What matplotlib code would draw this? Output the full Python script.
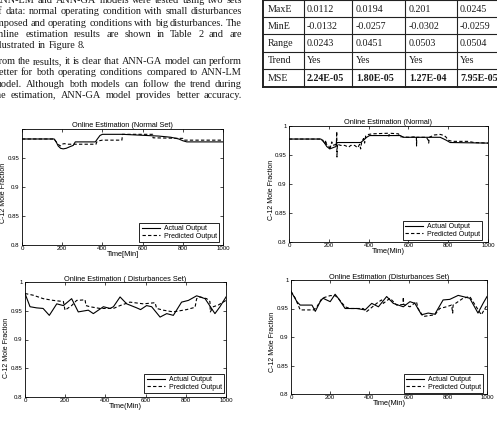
import matplotlib
matplotlib.use('Agg')
import matplotlib.pyplot as plt
from matplotlib.lines import Line2D

# ---------------- data ----------------
para_lines = [
    "ANN-LM and ANN-GA models were tested using two sets",
    "of data: normal operating condition with small disturbances",
    "imposed and operating conditions with big disturbances. The",
    "online estimation results are shown in Table 2 and are",
    "illustrated in Figure 8.",
    "From the results, it is clear that ANN-GA model can perform",
    "better for both operating conditions compared to ANN-LM",
    "model. Although both models can follow the trend during",
    "the estimation, ANN-GA model provides better accuracy.",
]

table_rows = ["MaxE", "MinE", "Range", "Trend", "MSE"]
table_vals = [
    ["0.0112", "0.0194", "0.201", "0.0245"],
    ["-0.0132", "-0.0257", "-0.0302", "-0.0259"],
    ["0.0243", "0.0451", "0.0503", "0.0504"],
    ["Yes", "Yes", "Yes", "Yes"],
    ["2.24E-05", "1.80E-05", "1.27E-04", "7.95E-05"],
]

x_ticks = [0, 200, 400, 600, 800, 1000]
y_ticks = [0.8, 0.85, 0.9, 0.95, 1.0]
y_tick_labels = ["0.8", "0.85", "0.9", "0.95", "1"]

# Top-left: Normal Set
tl_act_t = [0, 160, 170, 180, 192, 205, 220, 240, 255, 265, 300, 365, 375, 388, 400, 500, 560, 620, 680, 740, 780, 800, 820, 1000]
tl_act_v = [0.982, 0.982, 0.977, 0.970, 0.966, 0.965, 0.966, 0.969, 0.971, 0.977, 0.977, 0.977, 0.982, 0.988, 0.990, 0.990, 0.989, 0.988, 0.987, 0.985, 0.982, 0.979, 0.977, 0.977]
tl_pred_t = [0, 160, 168, 180, 190, 198, 210, 230, 262, 264, 368, 372, 385, 400, 497, 500, 650, 652, 800, 805, 1000]
tl_pred_v = [0.982, 0.982, 0.978, 0.973, 0.970, 0.973, 0.974, 0.973, 0.973, 0.973, 0.973, 0.977, 0.979, 0.980, 0.980, 0.990, 0.990, 0.984, 0.983, 0.980, 0.980]

# Top-right: Normal
tr_act_t = [0, 160, 175, 190, 205, 220, 236, 238, 360, 375, 390, 405, 560, 575, 760, 790, 810, 1000]
tr_act_v = [0.977, 0.977, 0.972, 0.964, 0.960, 0.962, 0.964, 0.971, 0.971, 0.975, 0.980, 0.983, 0.983, 0.980, 0.980, 0.975, 0.971, 0.970]
tr_pred_t = [0, 160, 170, 180, 185, 188, 200, 205, 210, 215, 220, 238, 240, 241, 243, 260, 280, 300, 310, 330, 345, 355, 360, 365, 375, 380, 385, 400, 420, 500, 502, 505, 550, 560, 600, 640, 641, 642, 690, 700, 702, 705, 730, 760, 780, 790, 800, 820, 900, 930, 1000]
tr_pred_v = [0.977, 0.977, 0.975, 0.968, 0.975, 0.968, 0.966, 0.958, 0.966, 0.972, 0.966, 0.968, 0.990, 0.946, 0.968, 0.966, 0.966, 0.963, 0.966, 0.966, 0.962, 0.968, 0.960, 0.972, 0.978, 0.970, 0.982, 0.985, 0.986, 0.987, 0.982, 0.987, 0.986, 0.981, 0.980, 0.981, 0.965, 0.980, 0.980, 0.975, 0.970, 0.980, 0.984, 0.985, 0.983, 0.980, 0.975, 0.973, 0.973, 0.971, 0.970]

# Bottom-left: Disturbances Set
bl_act_t = [0, 25, 58, 90, 121, 158, 191, 232, 265, 315, 340, 390, 423, 440, 473, 506, 556, 575, 605, 630, 672, 705, 738, 779, 813, 854, 896, 945, 970, 1000]
bl_act_v = [0.980, 0.957, 0.955, 0.954, 0.942, 0.962, 0.959, 0.971, 0.948, 0.951, 0.945, 0.957, 0.954, 0.957, 0.974, 0.962, 0.955, 0.952, 0.959, 0.957, 0.939, 0.945, 0.942, 0.965, 0.968, 0.976, 0.971, 0.945, 0.957, 0.974]
bl_pred_t = [0, 41, 91, 141, 191, 199, 232, 257, 299, 303, 323, 373, 440, 473, 522, 589, 647, 655, 688, 738, 804, 846, 854, 871, 904, 920, 922, 937, 962, 1000]
bl_pred_v = [0.980, 0.977, 0.971, 0.968, 0.966, 0.951, 0.959, 0.968, 0.969, 0.959, 0.957, 0.954, 0.954, 0.959, 0.965, 0.962, 0.964, 0.954, 0.951, 0.948, 0.952, 0.956, 0.971, 0.974, 0.971, 0.966, 0.948, 0.957, 0.960, 0.968]

# Bottom-right: Disturbances Set
br_act_t = [0, 30, 47, 107, 124, 149, 163, 200, 225, 241, 276, 336, 378, 412, 446, 488, 522, 573, 607, 632, 666, 700, 734, 776, 810, 853, 912, 954, 980, 1000]
br_act_v = [0.980, 0.962, 0.956, 0.956, 0.945, 0.962, 0.968, 0.962, 0.975, 0.968, 0.950, 0.950, 0.9475, 0.959, 0.953, 0.971, 0.959, 0.953, 0.962, 0.959, 0.939, 0.942, 0.940, 0.965, 0.966, 0.973, 0.968, 0.942, 0.959, 0.971]
br_pred_t = [0, 22, 47, 115, 132, 158, 200, 225, 241, 276, 300, 368, 386, 437, 462, 471, 505, 539, 571, 573, 575, 607, 640, 648, 675, 734, 759, 793, 819, 825, 827, 878, 912, 971, 1000]
br_pred_v = [0.980, 0.968, 0.9475, 0.9475, 0.953, 0.968, 0.9726, 0.9726, 0.968, 0.953, 0.950, 0.950, 0.9446, 0.959, 0.965, 0.959, 0.968, 0.956, 0.957, 0.970, 0.957, 0.953, 0.962, 0.950, 0.936, 0.939, 0.950, 0.953, 0.956, 0.942, 0.956, 0.968, 0.971, 0.939, 0.956]

# ---------------- figure ----------------
W, H = 497, 424
fig = plt.figure(figsize=(W / 100, H / 100), dpi=100)
fig.patch.set_facecolor('white')

def fx(x):
    return x / W

def fy(y):
    return 1 - y / H

SERIF = 'Liberation Serif'
SANS = 'Liberation Sans'
INK = '#1a1a1a'

# ---- paragraph (justified) ----
fig.canvas.draw()
rend = fig.canvas.get_renderer()
baselines = [3, 14.5, 26, 36.8, 47.7, 64.3, 75.3, 86.7, 97.7]
justify = [True, True, True, True, False, True, True, True, True]
left_m, right_m = -6.0, 242.0
PFS = 7.4
for line, yb, just in zip(para_lines, baselines, justify):
    words = line.split(' ')
    arts = [fig.text(0, fy(yb), w, fontsize=PFS, family=SERIF, va='baseline', ha='left', color=INK)
            for w in words]
    ws = [a.get_window_extent(rend).width for a in arts]
    if just and len(words) > 1:
        gap = (right_m - left_m - sum(ws)) / (len(words) - 1)
    else:
        gap = PFS * 100 / 72 * 0.25
    x = left_m
    for a, w in zip(arts, ws):
        a.set_x(fx(x))
        x += w + gap

# ---- table ----
TFS = 7.2
col_x = [263, 304, 352, 405, 457, 520]
row_y = [0, 17.3, 34.3, 51.7, 69, 87.3]
for i, yy in enumerate(row_y):
    lw = 1.4 if i == len(row_y) - 1 else 0.8
    fig.add_artist(Line2D([fx(col_x[0]), fx(col_x[-1])], [fy(yy), fy(yy)], color='#222222', lw=lw))
for j, xx in enumerate(col_x[:-1]):
    lw = 1.4 if j == 0 else 0.8
    fig.add_artist(Line2D([fx(xx), fx(xx)], [fy(row_y[0]), fy(row_y[-1])], color='#222222', lw=lw))
text_x = [307, 356, 409, 460]
for i, (name, vals) in enumerate(zip(table_rows, table_vals)):
    yc = (row_y[i] + row_y[i + 1]) / 2 + 0.5
    fig.text(fx(268), fy(yc), name, fontsize=TFS, family=SERIF, va='center', ha='left', color=INK)
    for j, v in enumerate(vals):
        fig.text(fx(text_x[j]), fy(yc), v, fontsize=TFS, family=SERIF, va='center', ha='left',
                 weight='bold' if name == 'MSE' else 'normal', color=INK)

# ---- plots ----
def make_ax(box, ta, va, tp, vp, title, xlabel, ylab_x, ylab_y, leg_anchor, top_label=True):
    l, r, t, b = box
    ax = fig.add_axes([fx(l), fy(b), (r - l) / W, (b - t) / H])
    ax.plot(ta, va, color='black', lw=0.8, label='Actual Output')
    ax.plot(tp, vp, color='black', lw=0.8, ls=(0, (3, 2)), label='Predicted Output')
    ax.set_xlim(0, 1000)
    ax.set_ylim(0.8, 1.0)
    ax.set_xticks(x_ticks)
    ax.set_xticklabels([str(v) for v in x_ticks])
    ax.set_yticks(y_ticks)
    labs = list(y_tick_labels)
    if not top_label:
        labs[-1] = ''
    ax.set_yticklabels(labs)
    ax.tick_params(direction='in', top=True, right=True, length=2, width=0.5, labelsize=4.4, pad=1)
    ax.tick_params(axis='y', pad=1.8)
    for lab in ax.get_xticklabels() + ax.get_yticklabels():
        lab.set_family(SANS)
    for s in ax.spines.values():
        s.set_linewidth(0.6)
    ax.set_title(title, fontsize=5.3, family=SANS, pad=1)
    ax.set_xlabel(xlabel, fontsize=5.3, family=SANS, labelpad=0)
    ax.set_ylabel('C-12 Mole Fraction', fontsize=5.0, family=SANS, va='center')
    ax.yaxis.set_label_coords((ylab_x - l) / (r - l), ylab_y)
    leg = ax.legend(loc='lower right', bbox_to_anchor=leg_anchor, borderaxespad=0,
                    prop={'family': SANS, 'size': 5}, frameon=True, fancybox=False, framealpha=1,
                    edgecolor='black', handlelength=2.6, borderpad=0.3, labelspacing=0.1,
                    handletextpad=0.6)
    leg.get_frame().set_linewidth(0.6)
    return ax

make_ax((22, 223, 128.5, 245), tl_act_t, tl_act_v, tl_pred_t, tl_pred_v,
        'Online Estimation (Normal Set)', 'Time[Min]', 4.0, 0.45, (0.98, 0.026), top_label=False)
make_ax((289, 488, 125.7, 241.7), tr_act_t, tr_act_v, tr_pred_t, tr_pred_v,
        'Online Estimation (Normal)', 'Time(Min)', 271.5, 0.446, (0.97, 0.015))
make_ax((25, 226, 282, 397), bl_act_t, bl_act_v, bl_pred_t, bl_pred_v,
        'Online Estimation ( Disturbances Set)', 'Time(Min)', 7.0, 0.43, (0.99, 0.035))
make_ax((291, 487, 280, 394), br_act_t, br_act_v, br_pred_t, br_pred_v,
        'Online Estimation (Disturbances Set)', 'Time(Min)', 272, 0.46, (0.98, 0.01))

fig.savefig('out.png', dpi=100, facecolor='white')
